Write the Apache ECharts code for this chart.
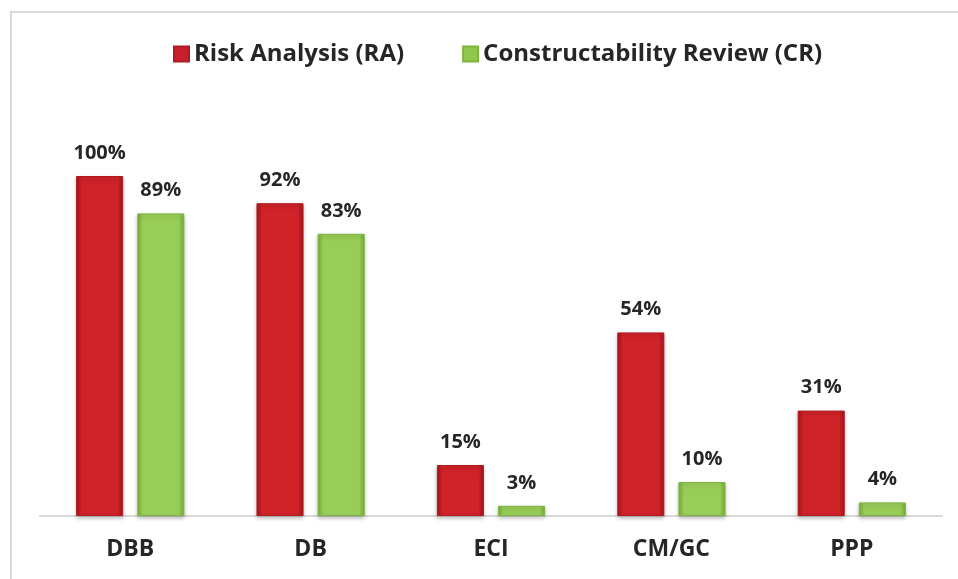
<!DOCTYPE html>
<html lang="en">
  <head>
    <meta charset="utf-8" />
    <script src="https://cdn.jsdelivr.net/npm/echarts@6/dist/echarts.min.js"></script>
    <title>Risk Analysis vs Constructability Review</title>
    <style>
      html, body { margin: 0; padding: 0; background: #fff; }
      #frame {
        position: absolute; left: 10px; top: 11px; right: -4px; bottom: -4px;
        border-left: 2px solid #d9d9d9; border-top: 2px solid #d9d9d9;
      }
      #chart { position: absolute; left: 0; top: 0; width: 958px; height: 579px; }
    </style>
  </head>
  <body>
    <div id="frame"></div>
    <div id="chart"></div>
    <script>
      var categories = ['DBB', 'DB', 'ECI', 'CM/GC', 'PPP']
      var riskAnalysis = [100, 92, 15, 54, 31]
      var constructability = [89, 83, 3, 10, 4]

      var FONT = '"Open Sans", Lato, sans-serif'

      // bevelled look: darker edges, lighter middle
      var redFill = new echarts.graphic.LinearGradient(0, 0, 1, 0, [
        { offset: 0, color: '#a5141b' },
        { offset: 0.12, color: '#cf2229' },
        { offset: 0.88, color: '#cf2229' },
        { offset: 1, color: '#a5141b' }
      ])
      var greenFill = new echarts.graphic.LinearGradient(0, 0, 1, 0, [
        { offset: 0, color: '#76b03a' },
        { offset: 0.12, color: '#98cd58' },
        { offset: 0.88, color: '#98cd58' },
        { offset: 1, color: '#76b03a' }
      ])

      var label = {
        show: true,
        position: 'top',
        distance: 13,
        fontFamily: FONT,
        fontWeight: 'bold',
        fontSize: 20,
        color: '#262626',
        formatter: '{c}%'
      }

      var chart = echarts.init(document.getElementById('chart'))
      chart.setOption({
        animation: false,
        legend: {
          top: 37,
          left: 168,
          itemWidth: 15,
          itemHeight: 15,
          itemGap: 58,
          textStyle: { fontFamily: FONT, fontWeight: 'bold', fontSize: 24, color: '#262626' },
          data: [
            { name: 'Risk Analysis (RA)', icon: 'rect', itemStyle: { color: '#c8202a' } },
            { name: 'Constructability Review (CR)', icon: 'rect', itemStyle: { color: '#8fc84a' } }
          ]
        },
        grid: { left: 40, right: 16, top: 176, bottom: 63, containLabel: false },
        xAxis: {
          type: 'category',
          data: categories,
          axisLine: { lineStyle: { color: '#d9d9d9', width: 2 } },
          axisTick: { show: false },
          axisLabel: {
            margin: 22,
            fontFamily: FONT,
            fontWeight: 'bold',
            fontSize: 23,
            color: '#262626'
          }
        },
        yAxis: { type: 'value', min: 0, max: 100, show: false, splitLine: { show: false } },
        series: [
          {
            name: 'Risk Analysis (RA)',
            type: 'bar',
            data: riskAnalysis,
            barGap: '30%',
            barCategoryGap: '40%',
            itemStyle: {
              color: redFill,
              borderColor: '#b01a21',
              borderWidth: 1,
              shadowColor: 'rgba(0,0,0,0.25)',
              shadowBlur: 4,
              shadowOffsetY: 2
            },
            label: label
          },
          {
            name: 'Constructability Review (CR)',
            type: 'bar',
            data: constructability,
            itemStyle: {
              color: greenFill,
              borderColor: '#7cb43f',
              borderWidth: 1,
              shadowColor: 'rgba(0,0,0,0.25)',
              shadowBlur: 4,
              shadowOffsetY: 2
            },
            label: label
          }
        ]
      })
    </script>
  </body>
</html>
